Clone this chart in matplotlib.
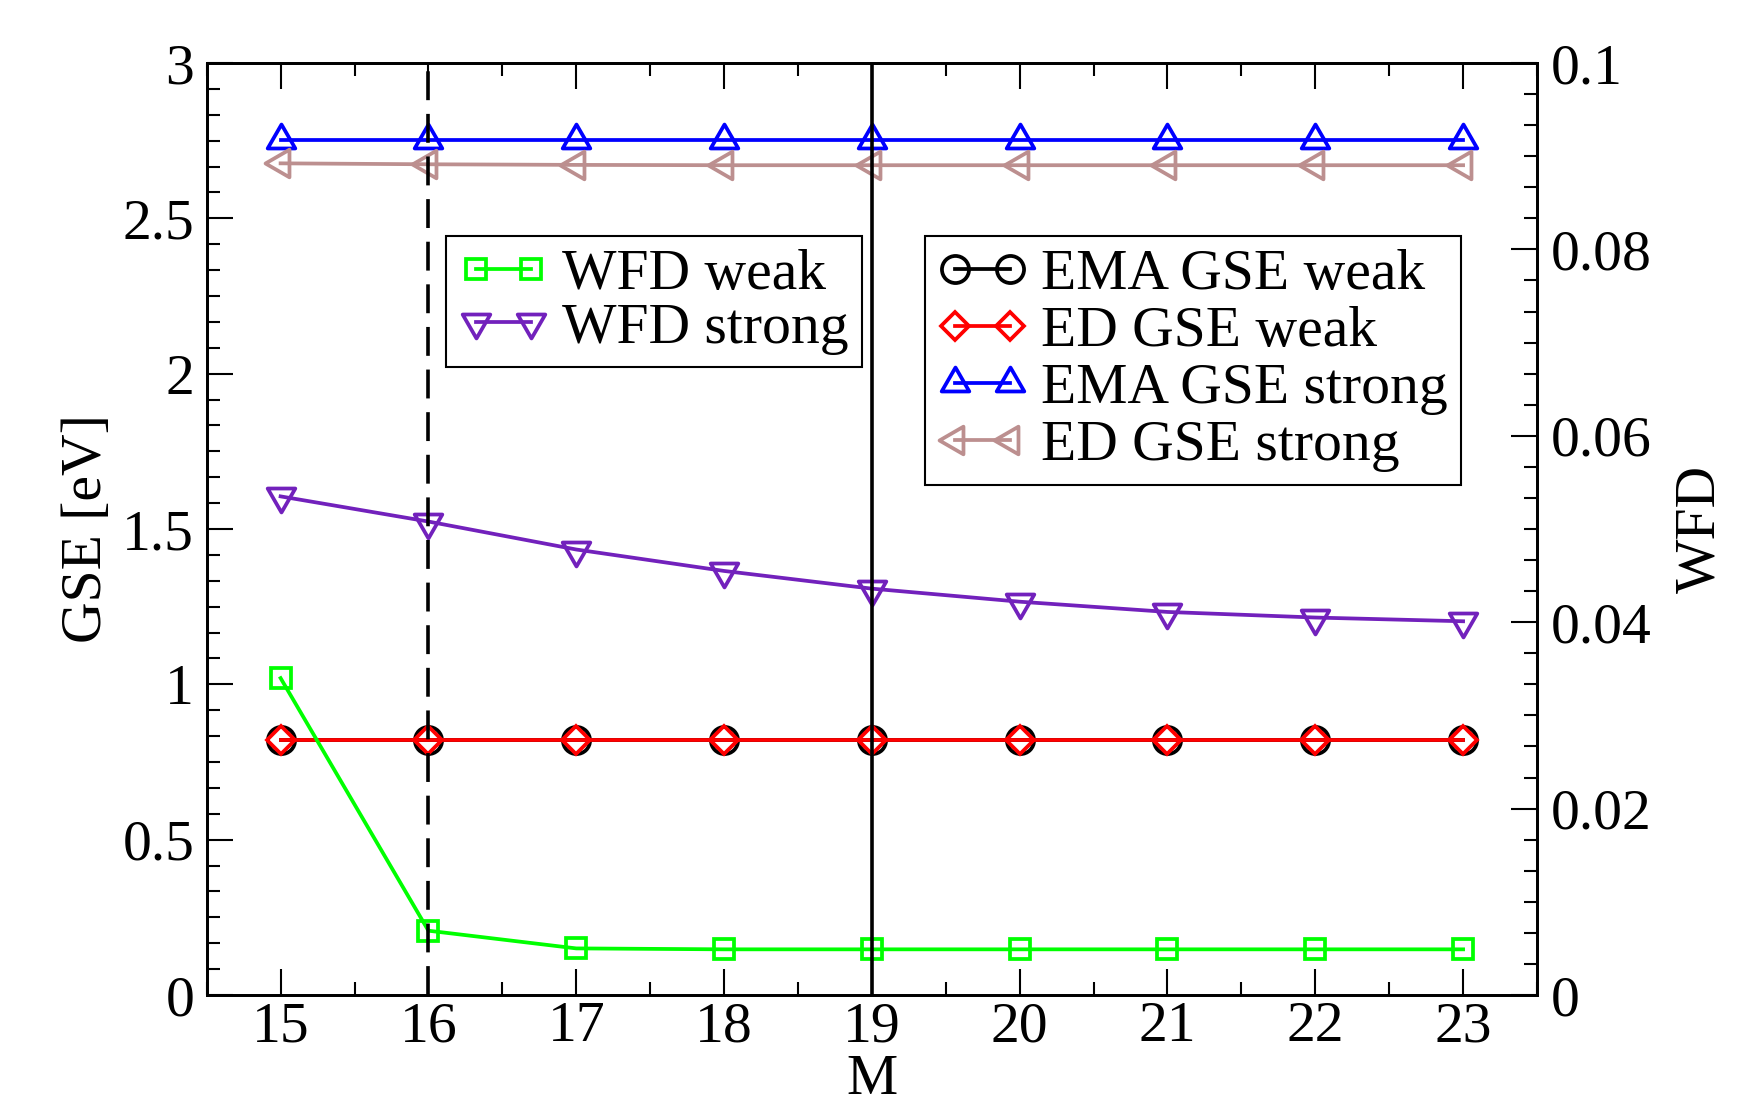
import matplotlib
matplotlib.use("Agg")
import matplotlib.pyplot as plt
from matplotlib.ticker import MultipleLocator, FormatStrFormatter
from matplotlib.path import Path
import numpy as np

plt.rcParams['font.family'] = ['Liberation Serif', 'DejaVu Serif']
plt.rcParams['mathtext.fontset'] = 'stix'

# ---------------- data ----------------
M = [15, 16, 17, 18, 19, 20, 21, 22, 23]
ema_gse_weak = [0.82, 0.82, 0.82, 0.82, 0.82, 0.82, 0.82, 0.82, 0.82]
ed_gse_weak = [0.82, 0.82, 0.82, 0.82, 0.82, 0.82, 0.82, 0.82, 0.82]
ema_gse_strong = [2.752, 2.752, 2.752, 2.752, 2.752, 2.752, 2.752, 2.752, 2.752]
ed_gse_strong = [2.677, 2.674, 2.672, 2.671, 2.671, 2.671, 2.671, 2.671, 2.671]
wfd_weak = [0.0340, 0.0069, 0.0050, 0.0049, 0.0049, 0.0049, 0.0049, 0.0049, 0.0049]
wfd_strong = [0.0535, 0.0508, 0.0478, 0.0455, 0.0436, 0.0422, 0.0411, 0.0405, 0.0401]
vline_dashed = 16
vline_solid = 19

labels_gse = ["EMA GSE weak", "ED GSE weak", "EMA GSE strong", "ED GSE strong"]
labels_wfd = ["WFD weak", "WFD strong"]

# ---------------- style ----------------
FS = 41.5
LW = 2.7
GREEN = '#00ff00'
INDIGO = '#7221bc'
BLUE = '#0000ff'
RED = '#ff0000'
ROSY = '#bc8f8f'


def tri(direction):
    # triangle centred on its centroid (xmgrace style)
    base = np.array([[0.0, 1.1547], [-1.0, -0.57735], [1.0, -0.57735]])
    rot = {'up': 0, 'down': 180, 'left': 90, 'right': -90}[direction]
    t = np.deg2rad(rot)
    R = np.array([[np.cos(t), -np.sin(t)], [np.sin(t), np.cos(t)]])
    v = base @ R.T
    v = np.vstack([v, v[0]])
    return Path(v, [Path.MOVETO, Path.LINETO, Path.LINETO, Path.CLOSEPOLY])


TRI_MS = 23

fig = plt.figure(figsize=(17.61, 11.06), dpi=100)
ax = fig.add_axes([206.7 / 1761, 1 - 995 / 1106, (1537 - 206.7) / 1761, (995 - 63) / 1106])
ax2 = ax.twinx()

common = dict(lw=LW, mew=LW, mfc='none')
h1, = ax.plot(M, ema_gse_weak, color='black', marker='o', ms=19.5, label=labels_gse[0], **common)
h2, = ax.plot(M, ed_gse_weak, color=RED, marker='D', ms=14, label=labels_gse[1], **common)
h3, = ax.plot(M, ema_gse_strong, color=BLUE, marker=tri('up'), ms=TRI_MS, label=labels_gse[2], **common)
h4, = ax.plot(M, ed_gse_strong, color=ROSY, marker=tri('left'), ms=TRI_MS, label=labels_gse[3], **common)

g1, = ax2.plot(M, wfd_weak, color=GREEN, marker='s', ms=15, label=labels_wfd[0], **common)
g2, = ax2.plot(M, wfd_strong, color=INDIGO, marker=tri('down'), ms=TRI_MS, label=labels_wfd[1], **common)

ax2.axvline(vline_dashed, color='black', lw=2.6, ls=(0, (8.0, 3.8)), zorder=10)
ax2.axvline(vline_solid, color='black', lw=2.6, zorder=10)

ax.set_xlim(14.5, 23.5)
ax.set_ylim(0, 3)
ax2.set_ylim(0, 0.1)

ax.xaxis.set_major_locator(MultipleLocator(1))
ax.xaxis.set_minor_locator(MultipleLocator(0.5))
ax.yaxis.set_major_locator(MultipleLocator(0.5))
ax.yaxis.set_minor_locator(MultipleLocator(0.5 / 6))
ax2.yaxis.set_major_locator(MultipleLocator(0.02))
ax2.yaxis.set_minor_locator(MultipleLocator(0.02 / 6))
ax.yaxis.set_major_formatter(FormatStrFormatter('%g'))
ax2.yaxis.set_major_formatter(FormatStrFormatter('%g'))
ax.xaxis.set_major_formatter(FormatStrFormatter('%g'))

for a in (ax, ax2):
    for s in a.spines.values():
        s.set_linewidth(2)
ax.tick_params(axis='x', which='both', direction='in', top=True, bottom=True, width=1.5, labelsize=FS, pad=4.5)
ax.tick_params(axis='y', which='both', direction='in', left=True, right=False, width=1.5, labelsize=FS, pad=9)
ax2.tick_params(axis='y', which='both', direction='in', right=True, width=1.5, labelsize=FS, pad=10)
for a in (ax, ax2):
    a.tick_params(which='major', length=19)
    a.tick_params(which='minor', length=9.5)

ax.set_xlabel('M', fontsize=FS, labelpad=0.3)
ax.set_ylabel('GSE [eV]', fontsize=FS, labelpad=7)
ax2.set_ylabel('WFD', fontsize=FS, labelpad=16)

leg_kw = dict(fontsize=FS, numpoints=2, handlelength=1.55, handletextpad=0.25,
              borderpad=0.22, labelspacing=0.02, fancybox=False, framealpha=1,
              edgecolor='black', borderaxespad=0)
leg1 = ax2.legend(handles=[g1, g2], loc='upper left',
                  bbox_to_anchor=(446 / 1761, 1 - 236 / 1106), bbox_transform=fig.transFigure, **leg_kw)
leg1.get_frame().set_linewidth(1.5)
ax2.add_artist(leg1)
leg2 = ax2.legend(handles=[h1, h2, h3, h4], loc='upper left',
                  bbox_to_anchor=(925 / 1761, 1 - 236 / 1106), bbox_transform=fig.transFigure,
                  **{**leg_kw, 'labelspacing': 0.08})
leg2.get_frame().set_linewidth(1.5)
leg1.set_zorder(20)
leg2.set_zorder(20)

fig.savefig('out.png', dpi=100)
